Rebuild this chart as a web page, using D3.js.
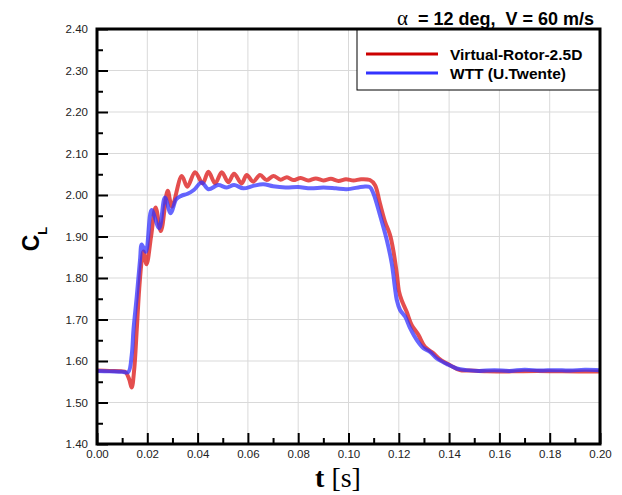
<!DOCTYPE html>
<html>
<head>
<meta charset="utf-8">
<script src="https://cdn.jsdelivr.net/npm/d3@7"></script>
<style>
  body { margin: 0; background: #fff; }
</style>
</head>
<body>
<div id="chart"></div>
<script>
// Virtual-Rotor-2.5D (red)
const tRed = [0.000, 0.005, 0.010, 0.0114, 0.0128, 0.0138, 0.0148, 0.0158, 0.0168, 0.0178, 0.0185, 0.0197,
  0.0215, 0.0233, 0.0254, 0.0281, 0.0298, 0.0337, 0.0359, 0.0390, 0.0420, 0.0443, 0.0470, 0.0496, 0.0522,
  0.0545, 0.0575, 0.0595, 0.0621, 0.0648, 0.0675, 0.0701, 0.073, 0.0755, 0.078, 0.081, 0.084, 0.087, 0.090,
  0.093, 0.096, 0.099, 0.102, 0.105, 0.1085, 0.1105, 0.1125, 0.1145, 0.1165, 0.1178, 0.1192, 0.1201, 0.1211,
  0.1231, 0.1251, 0.1278, 0.1304, 0.1337, 0.1364, 0.1404, 0.1443, 0.148, 0.155, 0.165, 0.175, 0.185, 0.200];
const clRed = [1.577, 1.576, 1.575, 1.573, 1.556, 1.536, 1.580, 1.675, 1.775, 1.843, 1.864, 1.833,
  1.900, 1.970, 1.913, 2.010, 1.972, 2.046, 2.020, 2.055, 2.028, 2.056, 2.028, 2.055, 2.031,
  2.051, 2.028, 2.048, 2.032, 2.048, 2.036, 2.046, 2.037, 2.043, 2.036, 2.041, 2.035, 2.040, 2.035,
  2.039, 2.034, 2.038, 2.035, 2.038, 2.036, 2.024, 1.980, 1.936, 1.904, 1.867, 1.811, 1.767, 1.747,
  1.719, 1.687, 1.663, 1.634, 1.619, 1.604, 1.590, 1.578, 1.577, 1.575, 1.575, 1.576, 1.575, 1.575];

// WTT (U.Twente) (blue)
const tBlue = [0.000, 0.005, 0.010, 0.0124, 0.0138, 0.0145, 0.0158, 0.0171, 0.0178, 0.0194, 0.0217, 0.0247,
  0.0270, 0.0293, 0.0315, 0.0335, 0.0360, 0.0385, 0.0416, 0.0443, 0.0482, 0.0516, 0.0545, 0.0582, 0.0621,
  0.0661, 0.0700, 0.0750, 0.080, 0.085, 0.090, 0.095, 0.0993, 0.1059, 0.1085, 0.1099, 0.1125, 0.1152, 0.1172,
  0.1185, 0.1192, 0.1205, 0.1225, 0.1245, 0.1271, 0.1298, 0.1324, 0.1351, 0.1390, 0.1430, 0.1470, 0.152,
  0.158, 0.164, 0.170, 0.176, 0.182, 0.188, 0.194, 0.200];
const clBlue = [1.576, 1.575, 1.574, 1.573, 1.614, 1.675, 1.755, 1.843, 1.881, 1.863, 1.964, 1.920,
  1.994, 1.956, 1.990, 1.998, 2.003, 2.012, 2.030, 2.014, 2.024, 2.018, 2.024, 2.016, 2.022,
  2.026, 2.021, 2.018, 2.019, 2.016, 2.018, 2.016, 2.014, 2.020, 2.019, 2.004, 1.952, 1.892, 1.835,
  1.775, 1.747, 1.723, 1.707, 1.679, 1.651, 1.631, 1.622, 1.606, 1.593, 1.582, 1.578, 1.576,
  1.578, 1.576, 1.579, 1.577, 1.578, 1.577, 1.579, 1.578];

const xTicks = [0.00, 0.02, 0.04, 0.06, 0.08, 0.10, 0.12, 0.14, 0.16, 0.18, 0.20];
const yTicks = [1.40, 1.50, 1.60, 1.70, 1.80, 1.90, 2.00, 2.10, 2.20, 2.30, 2.40];
const seriesNames = ["Virtual-Rotor-2.5D", "WTT (U.Twente)"];

const w = 622, h = 495;
const padL = 97, padR = 600, padT = 29, padB = 444;
const sans = "Arial, 'Liberation Sans', sans-serif";
const serif = "'Times New Roman', 'Liberation Serif', serif";

const x = d3.scaleLinear().domain([0, 0.2]).range([padL, padR]);
const y = d3.scaleLinear().domain([1.4, 2.4]).range([padB, padT]);

const svg = d3.select("#chart").append("svg")
  .attr("width", w).attr("height", h)
  .attr("font-family", sans);

// grid
svg.append("g").selectAll("line").data(xTicks.slice(1, -1)).join("line")
  .attr("x1", d => x(d)).attr("x2", d => x(d))
  .attr("y1", padT).attr("y2", padB)
  .attr("stroke", "#d9d9d9").attr("stroke-width", 1);
svg.append("g").selectAll("line").data(yTicks.slice(1, -1)).join("line")
  .attr("x1", padL).attr("x2", padR)
  .attr("y1", d => y(d)).attr("y2", d => y(d))
  .attr("stroke", "#d9d9d9").attr("stroke-width", 1);

// curves
const line = d3.line()
  .x(d => x(d[0])).y(d => y(d[1]))
  .curve(d3.curveCatmullRom.alpha(0.5));

svg.append("path")
  .datum(d3.zip(tRed, clRed))
  .attr("d", line)
  .attr("fill", "none")
  .attr("stroke", "#dd2222")
  .attr("stroke-opacity", 0.8)
  .attr("stroke-width", 4);

svg.append("path")
  .datum(d3.zip(tBlue, clBlue))
  .attr("d", line)
  .attr("fill", "none")
  .attr("stroke", "#3333ff")
  .attr("stroke-opacity", 0.75)
  .attr("stroke-width", 4);

// legend
const lg = svg.append("g");
lg.append("rect")
  .attr("x", 357).attr("y", padT).attr("width", padR - 357).attr("height", 61)
  .attr("fill", "#fff").attr("stroke", "#000").attr("stroke-width", 1);
const legendColors = ["#cc0000", "#3333ff"];
seriesNames.forEach((name, i) => {
  const ly = 54 + i * 19;
  lg.append("line")
    .attr("x1", 366).attr("x2", 438).attr("y1", ly).attr("y2", ly)
    .attr("stroke", legendColors[i]).attr("stroke-width", 3);
  lg.append("text")
    .attr("x", 450).attr("y", ly + 6)
    .attr("font-size", 15.5).attr("font-weight", "bold")
    .text(name);
});

// axes
const yAxis = d3.axisLeft(y).tickValues(yTicks).tickSize(-11).tickPadding(9)
  .tickFormat(d3.format(".2f"));
const yMinor = d3.axisLeft(y).tickValues(d3.range(1.45, 2.4, 0.1)).tickSize(-6).tickFormat("");
const xAxis = d3.axisBottom(x).tickValues(xTicks).tickSize(-11).tickPadding(6)
  .tickFormat(d3.format(".2f"));
const xMinor = d3.axisBottom(x).tickValues(d3.range(0.01, 0.2, 0.02)).tickSize(-6).tickFormat("");

function styleAxis(g) {
  g.select(".domain").remove();
  g.selectAll(".tick line").attr("stroke", "#000").attr("stroke-width", 2);
  g.selectAll(".tick text").attr("font-size", 11.5).attr("fill", "#222")
    .attr("font-family", sans);
}

svg.append("g").attr("transform", `translate(${padL},0)`).call(yAxis).call(styleAxis);
svg.append("g").attr("transform", `translate(${padL},0)`).call(yMinor).call(styleAxis);
svg.append("g").attr("transform", `translate(0,${padB})`).call(xAxis).call(styleAxis);
svg.append("g").attr("transform", `translate(0,${padB})`).call(xMinor).call(styleAxis);

// frame
svg.append("rect")
  .attr("x", padL).attr("y", padT).attr("width", padR - padL).attr("height", padB - padT)
  .attr("fill", "none").attr("stroke", "#000").attr("stroke-width", 3);

// title
const title = svg.append("text")
  .attr("x", 594).attr("y", 25).attr("text-anchor", "end")
  .attr("font-size", 18).attr("font-weight", "bold")
  .attr("xml:space", "preserve");
title.append("tspan").attr("font-family", serif).attr("font-weight", "normal")
  .attr("font-size", 21).text("α");
title.append("tspan").text("  = 12 deg,  V = 60 m/s");

// y label
const yl = svg.append("text")
  .attr("transform", "translate(39,239) rotate(-90)")
  .attr("text-anchor", "middle")
  .attr("font-weight", "bold");
yl.append("tspan").attr("font-size", 23).text("C");
yl.append("tspan").attr("font-size", 13).attr("dy", 8).text("L");

// x label
const xl = svg.append("text")
  .attr("x", 338).attr("y", 487).attr("text-anchor", "middle")
  .attr("font-family", serif)
  .attr("font-size", 28);
xl.append("tspan").attr("font-weight", "bold").text("t");
xl.append("tspan").text(" [s]");
</script>
</body>
</html>
